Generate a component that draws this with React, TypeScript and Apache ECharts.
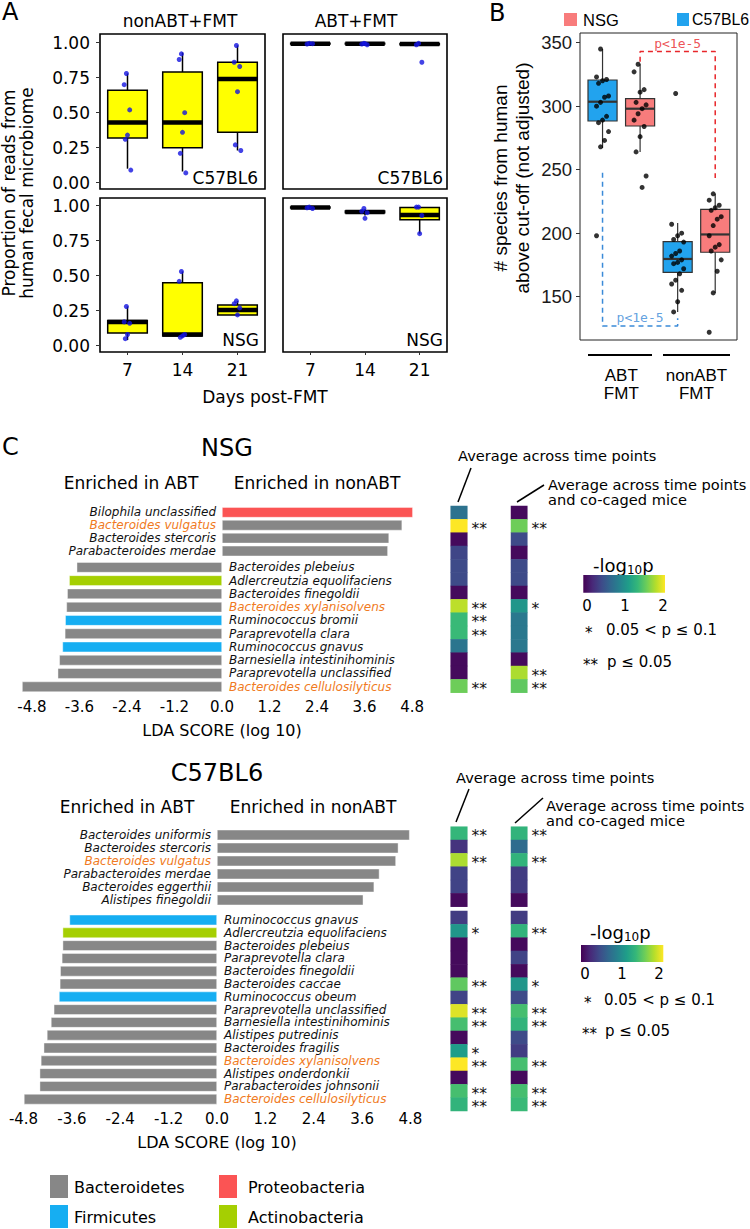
import React, { useEffect, useRef } from "react";
import * as echarts from "echarts";

const FONT = "DejaVu Sans";
const ARIAL = "Liberation Sans";
const MONO = "DejaVu Sans Mono";

// ---------------- Panel A ----------------
const days = ["7", "14", "21"];
const aYTicks = [0, 0.25, 0.5, 0.75, 1];
// box stats per day: [min, Q1, median, Q3, max]
const c57NonAbtBox = [
  [0.1, 0.32, 0.43, 0.66, 0.78],
  [0.08, 0.25, 0.43, 0.79, 0.93],
  [0.23, 0.36, 0.74, 0.86, 0.98],
];
const c57AbtBox = [
  [0.985, 0.99, 0.993, 0.996, 0.998],
  [0.985, 0.99, 0.993, 0.996, 0.998],
  [0.98, 0.986, 0.99, 0.995, 0.998],
];
const nsgNonAbtBox = [
  [0.04, 0.09, 0.17, 0.18, 0.28],
  [0.06, 0.07, 0.08, 0.45, 0.53],
  [0.22, 0.22, 0.255, 0.29, 0.32],
];
const nsgAbtBox = [
  [0.975, 0.984, 0.988, 0.991, 0.995],
  [0.93, 0.95, 0.955, 0.962, 0.975],
  [0.8, 0.9, 0.934, 0.988, 0.99],
];
const c57NonAbtPts = [
  [0.78, 0.7, 0.52, 0.34, 0.31, 0.09],
  [0.92, 0.88, 0.5, 0.36, 0.21, 0.07],
  [0.98, 0.86, 0.83, 0.65, 0.27, 0.23],
];
const c57AbtPts = [
  [0.995, 0.99, 0.993],
  [0.995, 0.99, 0.985, 0.993],
  [0.995, 0.985, 0.86],
];
const nsgNonAbtPts = [
  [0.28, 0.17, 0.16, 0.08, 0.05],
  [0.53, 0.46, 0.08, 0.07, 0.06],
  [0.32, 0.3, 0.27, 0.22],
];
const nsgAbtPts = [
  [0.99, 0.985, 0.98],
  [0.98, 0.96, 0.95, 0.91],
  [0.99, 0.99, 0.93, 0.8],
];

// ---------------- Panel B ----------------
const bGroups = ["ABT\nFMT", "nonABT\nFMT"];
const bTicks = [150, 200, 250, 300, 350];
const bC57Box = [
  [267, 288.3, 303.5, 320.6, 345],
  [138, 169.2, 179.7, 193.3, 208],
];
const bNsgBox = [
  [264, 284.4, 298, 305.9, 333],
  [153, 185, 199, 218.8, 231],
];
const bC57Pts = [
  [345, 323, 321, 320, 318, 308, 307, 303, 300, 292, 289, 287, 280, 273, 268, 198],
  [310, 207, 200, 198, 195, 193, 186, 184, 182, 179, 177, 176, 172, 168, 163, 160, 155, 146, 138],
];
const bNsgPts = [
  [333, 327, 313, 311, 303, 301, 298, 294, 289, 284, 276, 264, 245, 236],
  [231, 226, 222, 220, 218, 213, 211, 206, 198, 191, 189, 186, 179, 170, 153, 122],
];
const redBracket = [[1.25, 335], [1.25, 343], [2.25, 343], [2.25, 243.5]];
const blueBracket = [[0.75, 247.5], [0.75, 127], [1.75, 127], [1.75, 133]];
const pLabel = "p<1e-5";

// ---------------- Panel C ----------------
const ldaTicks = [-4.8, -3.6, -2.4, -1.2, 0, 1.2, 2.4, 3.6, 4.8];
const orangeSpecies = ["Bacteroides vulgatus", "Bacteroides xylanisolvens", "Bacteroides cellulosilyticus"];
const phylumNames = ["Bacteroidetes", "Proteobacteria", "Firmicutes", "Actinobacteria"];
const phylumColors = ["#878787", "#fb5454", "#16aef2", "#a5cf02"];

const nsgSpecies = [
  "Bilophila unclassified",
  "Bacteroides vulgatus",
  "Bacteroides stercoris",
  "Parabacteroides merdae",
  "Bacteroides plebeius",
  "Adlercreutzia equolifaciens",
  "Bacteroides finegoldii",
  "Bacteroides xylanisolvens",
  "Ruminococcus bromii",
  "Paraprevotella clara",
  "Ruminococcus gnavus",
  "Barnesiella intestinihominis",
  "Paraprevotella unclassified",
  "Bacteroides cellulosilyticus",
];
const nsgLda = [4.82, 4.55, 4.22, 4.19, -3.67, -3.86, -3.91, -3.93, -3.96, -3.97, -4.03, -4.11, -4.15, -5.05];
const nsgPhylum = ["Proteobacteria", "Bacteroidetes", "Bacteroidetes", "Bacteroidetes", "Bacteroidetes", "Actinobacteria", "Bacteroidetes", "Bacteroidetes", "Firmicutes", "Bacteroidetes", "Firmicutes", "Bacteroidetes", "Bacteroidetes", "Bacteroidetes"];
const nsgAvgTime = [0.75, 2.0, 0.05, 0.42, 0.45, 0.45, 0.05, 1.8, 1.35, 1.35, 0.78, 0.05, 0.05, 1.55];
const nsgStarsTime = ["", "**", "", "", "", "", "", "**", "**", "**", "", "", "", "**"];
const nsgAvgCage = [0.05, 1.55, 0.45, 0.05, 0.45, 0.45, 0.05, 1.05, 0.8, 0.8, 0.8, 0.05, 1.75, 1.5];
const nsgStarsCage = ["", "**", "", "", "", "", "", "*", "", "", "", "", "**", "**"];

const c57Species = [
  "Bacteroides uniformis",
  "Bacteroides stercoris",
  "Bacteroides vulgatus",
  "Parabacteroides merdae",
  "Bacteroides eggerthii",
  "Alistipes finegoldii",
  "Ruminococcus gnavus",
  "Adlercreutzia equolifaciens",
  "Bacteroides plebeius",
  "Paraprevotella clara",
  "Bacteroides finegoldii",
  "Bacteroides caccae",
  "Ruminococcus obeum",
  "Paraprevotella unclassified",
  "Barnesiella intestinihominis",
  "Alistipes putredinis",
  "Bacteroides fragilis",
  "Bacteroides xylanisolvens",
  "Alistipes onderdonkii",
  "Parabacteroides johnsonii",
  "Bacteroides cellulosilyticus",
];
const c57Lda = [4.78, 4.5, 4.44, 4.03, 3.9, 3.63, -3.66, -3.83, -3.83, -3.85, -3.89, -3.9, -3.92, -4.05, -4.12, -4.22, -4.3, -4.37, -4.4, -4.4, -4.79];
const c57Phylum = ["Bacteroidetes", "Bacteroidetes", "Bacteroidetes", "Bacteroidetes", "Bacteroidetes", "Bacteroidetes", "Firmicutes", "Actinobacteria", "Bacteroidetes", "Bacteroidetes", "Bacteroidetes", "Bacteroidetes", "Firmicutes", "Bacteroidetes", "Bacteroidetes", "Bacteroidetes", "Bacteroidetes", "Bacteroidetes", "Bacteroidetes", "Bacteroidetes", "Bacteroidetes"];
const c57AvgTime = [1.32, 0.3, 1.75, 0.4, 0.4, 0.05, 0.35, 1.05, 0.05, 0.05, 0.05, 1.5, 0.4, 1.9, 1.4, 0.05, 1.1, 2.0, 0.05, 1.4, 1.3];
const c57StarsTime = ["**", "", "**", "", "", "", "", "*", "", "", "", "**", "", "**", "**", "", "*", "**", "", "**", "**"];
const c57AvgCage = [1.3, 0.7, 1.3, 0.35, 0.35, 0.05, 0.35, 1.3, 0.05, 0.4, 0.05, 1.05, 0.45, 1.4, 1.3, 0.45, 0.35, 1.4, 0.05, 1.4, 1.35];
const c57StarsCage = ["**", "", "**", "", "", "", "", "**", "", "", "", "*", "", "**", "**", "", "", "**", "", "**", "**"];

const VIRIDIS = ["#440154", "#482878", "#3e4a89", "#31688e", "#26828e", "#1f9e89", "#35b779", "#6ece58", "#b5de2b", "#fde725"];

// ---------------- helpers ----------------
const jit = (j: number, amp: number) => ((((j * 5 + 2) % 7) - 3) / 3) * amp;
const noLine = { show: false, onZero: false };

function boxRender(fill: string, stroke: string, widthUnits: number, lw: number, medW: number) {
  return function (params: any, api: any) {
    const x = api.value(0);
    const p = [1, 2, 3, 4, 5].map((k) => api.coord([x, api.value(k)]));
    const cx = p[0][0];
    const hw = api.size([widthUnits, 0])[0] / 2;
    const st = { stroke, lineWidth: lw };
    return {
      type: "group",
      children: [
        { type: "line", shape: { x1: cx, y1: p[4][1], x2: cx, y2: p[3][1] }, style: st },
        { type: "line", shape: { x1: cx, y1: p[1][1], x2: cx, y2: p[0][1] }, style: st },
        {
          type: "rect",
          shape: { x: cx - hw, y: p[3][1], width: 2 * hw, height: Math.max(p[1][1] - p[3][1], 0.3) },
          style: { fill, stroke, lineWidth: lw },
        },
        { type: "line", shape: { x1: cx - hw, y1: p[2][1], x2: cx + hw, y2: p[2][1] }, style: { stroke, lineWidth: medW } },
      ],
    };
  };
}

function txt(x: number, y: number, text: string, o: any = {}) {
  return {
    type: "text",
    x,
    y,
    rotation: o.rot || 0,
    silent: true,
    style: {
      text,
      fill: o.color || "#000",
      fontSize: o.size || 15,
      fontFamily: o.family || FONT,
      fontStyle: o.italic ? "italic" : "normal",
      textAlign: o.align || "left",
      textVerticalAlign: "middle",
      rich: o.rich,
    },
  };
}
function seg(x1: number, y1: number, x2: number, y2: number, w = 1.5, color = "#000") {
  return { type: "line", silent: true, shape: { x1, y1, x2, y2 }, style: { stroke: color, lineWidth: w } };
}
function box(x: number, y: number, w: number, h: number, fill: any) {
  return { type: "rect", silent: true, shape: { x, y, width: w, height: h }, style: { fill } };
}

function buildOption() {
  const grids: any[] = [];
  const xAxes: any[] = [];
  const yAxes: any[] = [];
  const series: any[] = [];
  const heatIdx: number[] = [];
  const addGrid = (g: any, x: any, y: any) => {
    grids.push(g);
    const gi = grids.length - 1;
    xAxes.push({ gridIndex: gi, axisLine: noLine, ...x });
    yAxes.push({ gridIndex: gi, axisLine: noLine, ...y });
    return gi;
  };

  // ----- Panel A -----
  const aPanels = [
    { left: 100, top: 34, w: 165, h: 155, min: -0.045, max: 1.062, b: c57NonAbtBox, pts: c57NonAbtPts, yl: true, xl: false },
    { left: 283, top: 34, w: 164, h: 155, min: -0.045, max: 1.062, b: c57AbtBox, pts: c57AbtPts, yl: false, xl: false },
    { left: 100, top: 198, w: 165, h: 154, min: -0.045, max: 1.055, b: nsgNonAbtBox, pts: nsgNonAbtPts, yl: true, xl: true },
    { left: 283, top: 198, w: 164, h: 154, min: -0.045, max: 1.055, b: nsgAbtBox, pts: nsgAbtPts, yl: false, xl: true },
  ];
  aPanels.forEach((p) => {
    const gi = addGrid(
      { left: p.left, top: p.top, width: p.w, height: p.h, show: true, borderColor: "#000", borderWidth: 1.6, backgroundColor: "#fff" },
      {
        type: "value", min: -0.5, max: 2.5,
        splitLine: { show: false },
        axisTick: { show: p.xl, customValues: [0, 1, 2], length: 3, lineStyle: { color: "#333" } },
        axisLabel: { show: p.xl, customValues: [0, 1, 2], formatter: (v: number) => days[Math.round(v)], fontSize: 17, color: "#000", fontFamily: FONT, margin: 9 },
      },
      {
        type: "value", min: p.min, max: p.max,
        splitLine: { show: false },
        axisTick: { show: p.yl, customValues: aYTicks, length: 4, lineStyle: { color: "#333" } },
        axisLabel: { show: p.yl, customValues: aYTicks, formatter: (v: number) => v.toFixed(2), fontSize: 17, color: "#000", fontFamily: FONT, margin: 10 },
      }
    );
    series.push({
      type: "custom", xAxisIndex: gi, yAxisIndex: gi, z: 2, clip: false,
      encode: { x: 0, y: [1, 2, 3, 4, 5] },
      data: p.b.map((s, i) => [i, ...s]),
      renderItem: boxRender("#ffff00", "#000", 0.72, 1.5, 4.5),
    });
    series.push({
      type: "scatter", xAxisIndex: gi, yAxisIndex: gi, z: 5, symbolSize: 5,
      itemStyle: { color: "#1414e0" },
      data: p.pts.flatMap((arr, d) => arr.map((v, j) => [d + jit(j, 0.06), v])),
    });
  });

  // ----- Panel B -----
  const gB = addGrid(
    { left: 580, top: 33, width: 157, height: 307, show: true, borderColor: "#222", borderWidth: 1, backgroundColor: "#fff" },
    {
      type: "value", min: 0.45, max: 2.54,
      splitLine: { show: false }, axisTick: { show: false },
      axisLabel: { customValues: [1, 2], formatter: (v: number) => bGroups[Math.round(v) - 1], fontSize: 17, lineHeight: 18, color: "#000", fontFamily: ARIAL, margin: 26 },
    },
    {
      type: "value", min: 115.9, max: 357.6,
      splitLine: { show: false },
      axisTick: { customValues: bTicks, length: 4, lineStyle: { color: "#333" } },
      axisLabel: { customValues: bTicks, fontSize: 18.5, color: "#1a1a1a", fontFamily: ARIAL, margin: 8 },
    }
  );
  const bDodge = 0.25;
  const bSets = [
    { box: bC57Box, pts: bC57Pts, color: "#22a3ee", off: -bDodge },
    { box: bNsgBox, pts: bNsgPts, color: "#f87c7c", off: bDodge },
  ];
  bSets.forEach((s) => {
    series.push({
      type: "custom", xAxisIndex: gB, yAxisIndex: gB, z: 2, clip: false,
      encode: { x: 0, y: [1, 2, 3, 4, 5] },
      data: s.box.map((st, g) => [g + 1 + s.off, ...st]),
      renderItem: boxRender(s.color, "#333", 0.387, 1.2, 2.2),
    });
  });
  bSets.forEach((s) => {
    series.push({
      type: "scatter", xAxisIndex: gB, yAxisIndex: gB, z: 5, symbolSize: 5,
      itemStyle: { color: "#000" },
      data: s.pts.flatMap((arr, g) => arr.map((v, j) => [g + 1 + s.off + jit(j, 0.08), v])),
    });
  });
  [
    { d: redBracket, c: "#e8262a", lab: [1.75, 343] },
    { d: blueBracket, c: "#3a8ad8", lab: [1.25, 127] },
  ].forEach((b) => {
    series.push({
      type: "line", xAxisIndex: gB, yAxisIndex: gB, z: 4, symbol: "none", silent: true,
      lineStyle: { color: b.c, width: 1.5, type: [5, 4] },
      data: b.d,
    });
    series.push({
      type: "scatter", xAxisIndex: gB, yAxisIndex: gB, symbolSize: 0, silent: true,
      data: [b.lab],
      label: { show: true, position: "top", distance: 2, formatter: pLabel, color: b.c, fontSize: 13, fontFamily: MONO },
    });
  });

  // ----- Panel C bars -----
  const addBars = (left: number, top: number, width: number, height: number, names: string[], vals: number[], phy: string[], showX: boolean) => {
    const gi = addGrid(
      { left, top, width, height },
      {
        type: "value", min: -5.2, max: 5.2,
        axisTick: { show: false }, splitLine: { show: false },
        axisLabel: { show: showX, customValues: ldaTicks, formatter: (v: number) => v.toFixed(1), fontSize: 15, color: "#000", fontFamily: FONT, margin: 6 },
        name: showX ? "LDA SCORE (log 10)" : "",
        nameLocation: "middle", nameGap: 29,
        nameTextStyle: { fontSize: 16, color: "#000", fontFamily: FONT },
      },
      { type: "category", data: names, inverse: true, show: false }
    );
    const positive = vals[0] > 0;
    series.push({
      type: "bar", xAxisIndex: gi, yAxisIndex: gi, barWidth: 10.5, silent: true,
      data: vals.map((v, i) => ({
        value: v,
        itemStyle: { color: phylumColors[phylumNames.indexOf(phy[i])] },
        label: { color: orangeSpecies.includes(names[i]) ? "#f07a22" : "#111" },
      })),
      itemStyle: { borderColor: "rgba(255,255,255,0.7)", borderWidth: 0.6 },
      label: {
        show: true, position: positive ? "left" : "right", distance: positive ? 6 : 7,
        formatter: (p: any) => names[p.dataIndex],
        fontSize: 12, fontStyle: "italic", fontFamily: FONT,
      },
    });
  };
  const nsgPosN = nsgLda.filter((v) => v > 0).length;
  addBars(16.1, 505.9, 411.8, 51.6, nsgSpecies.slice(0, nsgPosN), nsgLda.slice(0, nsgPosN), nsgPhylum.slice(0, nsgPosN), false);
  addBars(16.1, 560.7, 411.8, 132.7, nsgSpecies.slice(nsgPosN), nsgLda.slice(nsgPosN), nsgPhylum.slice(nsgPosN), true);
  const c57PosN = c57Lda.filter((v) => v > 0).length;
  addBars(7.4, 828.5, 419.2, 78, c57Species.slice(0, c57PosN), c57Lda.slice(0, c57PosN), c57Phylum.slice(0, c57PosN), false);
  addBars(7.4, 913.6, 419.2, 192, c57Species.slice(c57PosN), c57Lda.slice(c57PosN), c57Phylum.slice(c57PosN), true);

  // ----- Panel C heatmaps -----
  const addHeat = (left: number, top: number, width: number, height: number, vals: number[], stars: string[]) => {
    const gi = addGrid(
      { left, top, width, height },
      { type: "category", data: ["c"], show: false },
      { type: "category", data: vals.map((_, i) => String(i)), inverse: true, show: false }
    );
    series.push({
      type: "heatmap", xAxisIndex: gi, yAxisIndex: gi, silent: true,
      data: vals.map((v, i) => ({ value: [0, i, v], label: { show: stars[i] !== "", formatter: stars[i] || " " } })),
      label: { show: false, position: "right", distance: 4, fontSize: 15.5, lineHeight: 11, color: "#111", fontFamily: FONT, offset: [0, 3] },
      emphasis: { disabled: true },
    });
    heatIdx.push(series.length - 1);
  };
  const col1 = { left: 450.7, width: 16.6 };
  const col2 = { left: 511, width: 16.3 };
  addHeat(col1.left, 506, col1.width, 186.7, nsgAvgTime, nsgStarsTime);
  addHeat(col2.left, 506, col2.width, 186.7, nsgAvgCage, nsgStarsCage);
  addHeat(col1.left, 826.7, col1.width, 80, c57AvgTime.slice(0, c57PosN), c57StarsTime.slice(0, c57PosN));
  addHeat(col2.left, 826.7, col2.width, 80, c57AvgCage.slice(0, c57PosN), c57StarsCage.slice(0, c57PosN));
  addHeat(col1.left, 911, col1.width, 200, c57AvgTime.slice(c57PosN), c57StarsTime.slice(c57PosN));
  addHeat(col2.left, 911, col2.width, 200, c57AvgCage.slice(c57PosN), c57StarsCage.slice(c57PosN));

  const grad = () =>
    new echarts.graphic.LinearGradient(0, 0, 1, 0, VIRIDIS.map((c, i) => ({ offset: i / (VIRIDIS.length - 1), color: c })));
  const logRich = {
    a: { fontSize: 18, fontFamily: FONT, fill: "#000" },
    b: { fontSize: 12, fontFamily: FONT, fill: "#000", padding: [9, 0, 0, 0] },
  };
  const ann = 14.6;

  const graphic: any[] = [
    // panel letters
    txt(2, 12, "A", { size: 24 }),
    txt(489, 13, "B", { size: 24 }),
    txt(2, 447, "C", { size: 24 }),
    // panel A
    txt(180, 21, "nonABT+FMT", { size: 17, align: "center" }),
    txt(356, 21, "ABT+FMT", { size: 17, align: "center" }),
    txt(258, 178, "C57BL6", { size: 17, align: "right" }),
    txt(443, 178, "C57BL6", { size: 17, align: "right" }),
    txt(259, 340, "NSG", { size: 17, align: "right" }),
    txt(443, 340, "NSG", { size: 17, align: "right" }),
    txt(265, 397, "Days post-FMT", { size: 17, align: "center" }),
    txt(9, 193, "Proportion of reads from", { size: 17, align: "center", rot: Math.PI / 2 }),
    txt(27, 193, "human fecal microbiome", { size: 17, align: "center", rot: Math.PI / 2 }),
    // panel B
    box(564, 13, 13, 13, "#f87c7c"),
    txt(583, 19.5, "NSG", { size: 16.5, family: ARIAL }),
    box(677, 13, 12, 13, "#22a3ee"),
    txt(692, 19.5, "C57BL6", { size: 15.8, family: ARIAL }),
    txt(500, 178, "# species from human", { size: 19, family: ARIAL, align: "center", rot: Math.PI / 2 }),
    txt(522, 178, "above cut-off (not adjusted)", { size: 19, family: ARIAL, align: "center", rot: Math.PI / 2 }),
    seg(588, 355, 652, 355, 2),
    seg(663, 355, 730, 355, 2),
    // panel C NSG
    txt(227, 448, "NSG", { size: 24, align: "center" }),
    txt(131, 483, "Enriched in ABT", { size: 17, align: "center" }),
    txt(317, 483, "Enriched in nonABT", { size: 17, align: "center" }),
    txt(458, 455, "Average across time points", { size: ann }),
    seg(471, 468, 458, 502),
    txt(548, 484.5, "Average across time points", { size: ann }),
    txt(548, 499.5, "and co-caged mice", { size: ann }),
    seg(544, 485, 517, 502),
    txt(593, 565, "{a|-log}{b|10}{a|p}", { rich: logRich }),
    box(583.3, 575, 81.7, 17.7, grad()),
    txt(587, 606, "0", { size: 15, align: "center" }),
    txt(625, 606, "1", { size: 15, align: "center" }),
    txt(663, 606, "2", { size: 15, align: "center" }),
    txt(585, 633, "*", { size: 15 }),
    txt(606, 630, "0.05 < p ≤ 0.1", { size: 15 }),
    txt(583, 665, "**", { size: 15 }),
    txt(607, 662, "p ≤ 0.05", { size: 15 }),
    // panel C C57BL6
    txt(217, 773, "C57BL6", { size: 24, align: "center" }),
    txt(127, 807, "Enriched in ABT", { size: 17, align: "center" }),
    txt(313, 807, "Enriched in nonABT", { size: 17, align: "center" }),
    txt(456, 777, "Average across time points", { size: ann }),
    seg(469, 789, 456, 822),
    txt(546, 805, "Average across time points", { size: ann }),
    txt(546, 820, "and co-caged mice", { size: ann }),
    seg(543, 798, 515, 823),
    txt(590, 932, "{a|-log}{b|10}{a|p}", { rich: logRich }),
    box(581, 945, 82.3, 17, grad()),
    txt(585, 974, "0", { size: 15, align: "center" }),
    txt(622, 974, "1", { size: 15, align: "center" }),
    txt(659, 974, "2", { size: 15, align: "center" }),
    txt(584, 1003, "*", { size: 15 }),
    txt(604, 1000, "0.05 < p ≤ 0.1", { size: 15 }),
    txt(582, 1034, "**", { size: 15 }),
    txt(605, 1031, "p ≤ 0.05", { size: 15 }),
  ];
  // phylum legend
  const legPos = [
    [50, 1175, 74],
    [219, 1175, 248],
    [50, 1205, 74],
    [219, 1205, 248],
  ];
  const legOrder = ["Bacteroidetes", "Proteobacteria", "Firmicutes", "Actinobacteria"];
  legOrder.forEach((n, i) => {
    const [x, y, tx] = legPos[i];
    graphic.push(box(x, y, 18, 23, phylumColors[phylumNames.indexOf(n)]));
    graphic.push(txt(tx, y + 12, n, { size: 16 }));
  });

  return {
    animation: false,
    backgroundColor: "#fff",
    textStyle: { fontFamily: FONT },
    grid: grids,
    xAxis: xAxes,
    yAxis: yAxes,
    visualMap: {
      type: "continuous", show: false, min: 0, max: 2, dimension: 2,
      seriesIndex: heatIdx, inRange: { color: VIRIDIS },
    },
    series,
    graphic,
  };
}

export default function App() {
  const ref = useRef<HTMLDivElement>(null);
  useEffect(() => {
    document.body.style.margin = "0";
    const chart = echarts.init(ref.current as HTMLDivElement, null, { renderer: "svg", width: 750, height: 1229 });
    chart.setOption(buildOption() as any);
    return () => chart.dispose();
  }, []);
  return <div ref={ref} style={{ position: "absolute", left: 0, top: 0, width: 750, height: 1229, background: "#fff" }} />;
}
